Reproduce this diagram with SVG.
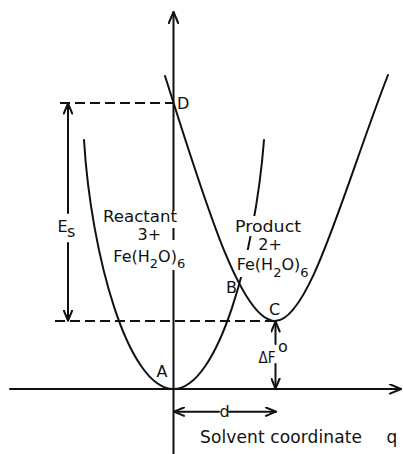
<svg xmlns="http://www.w3.org/2000/svg" width="403" height="454" viewBox="0 0 403 454">
<style>
.ln{stroke:#111;stroke-width:2;fill:none;stroke-linecap:round}
.ds{stroke:#111;stroke-width:2;fill:none;stroke-dasharray:10 5}
.t{font-family:"DejaVu Sans","Liberation Sans",sans-serif;font-size:16px;fill:#111}
.bg{fill:#fff;stroke:none}
</style>
<defs>
<marker id="ax" viewBox="0 0 13 11" refX="12" refY="5.5" markerWidth="13" markerHeight="11" markerUnits="userSpaceOnUse" orient="auto">
<path d="M1,0.8 L12,5.5 L1,10.2" fill="none" stroke="#111" stroke-width="2" stroke-linecap="round" stroke-linejoin="round"/>
</marker>
<marker id="ar" viewBox="0 0 12 10" refX="11" refY="5" markerWidth="12" markerHeight="10" markerUnits="userSpaceOnUse" orient="auto">
<path d="M1,0.8 L11,5 L1,9.2" fill="none" stroke="#111" stroke-width="2" stroke-linecap="round" stroke-linejoin="round"/>
</marker>
</defs>
<g id="connectors">
<line class="ln" x1="173.5" y1="454" x2="173.5" y2="12" marker-end="url(#ax)"/>
<line class="ln" x1="10" y1="389" x2="401" y2="389" marker-end="url(#ax)"/>
<line class="ds" x1="60" y1="103" x2="173.5" y2="103"/>
<line class="ds" x1="55" y1="321" x2="275" y2="321"/>
<line class="ln" x1="68" y1="213" x2="68" y2="103.5" marker-end="url(#ar)"/>
<line class="ln" x1="68" y1="243" x2="68" y2="320.5" marker-end="url(#ar)"/>
<line class="ln" x1="275.5" y1="344" x2="275.5" y2="321.5" marker-end="url(#ar)"/>
<line class="ln" x1="275.5" y1="364" x2="275.5" y2="388.5" marker-end="url(#ar)"/>
<line class="ln" x1="219" y1="411.7" x2="174" y2="411.7" marker-end="url(#ar)"/>
<line class="ln" x1="229" y1="411.7" x2="276" y2="411.7" marker-end="url(#ar)"/>
</g>
<g id="reactant-curve">
<path class="ln" d="M84,140 C91,255 128,389 173.5,389 C218,389 255,255 264,140"/>
</g>
<g id="product-curve">
<path class="ln" d="M165,76 C203,195 240,321 275,321 C310,321 345,185 388,75"/>
</g>
<g id="reactant-label">
<rect class="bg" x="101" y="211" width="79" height="17"/>
<rect class="bg" x="112" y="240" width="76" height="30"/>
<text class="t" x="103" y="222" textLength="74" lengthAdjust="spacingAndGlyphs">Reactant</text>
<text class="t" x="137.5" y="240">3+</text>
<text class="t" x="113.3" y="261.7">Fe(H<tspan dy="6.5" font-size="13">2</tspan><tspan dy="-6.5">O)</tspan><tspan dy="6.5" font-size="13">6</tspan></text>
</g>
<g id="product-label">
<rect class="bg" x="234" y="216" width="68" height="20"/>
<rect class="bg" x="238" y="250" width="22" height="27"/>
<text class="t" x="235" y="231.7" textLength="66" lengthAdjust="spacingAndGlyphs">Product</text>
<text class="t" x="258.3" y="250">2+</text>
<text class="t" x="236.7" y="270">Fe(H<tspan dy="6.5" font-size="13">2</tspan><tspan dy="-6.5">O)</tspan><tspan dy="6.5" font-size="13">6</tspan></text>
</g>
<g id="point-A"><text class="t" x="156.5" y="377">A</text></g>
<g id="point-B"><text class="t" x="226" y="293">B</text></g>
<g id="point-C"><text class="t" x="269" y="315">C</text></g>
<g id="point-D"><text class="t" x="177" y="108.5">D</text></g>
<g id="label-Es"><text class="t" x="57.5" y="231.7">E</text><text class="t" x="67" y="236.7">s</text></g>
<g id="label-dF"><text class="t" x="258.5" y="362.7" textLength="17" lengthAdjust="spacingAndGlyphs">ΔF</text><text class="t" x="278" y="351.5" font-size="12">o</text></g>
<g id="label-d"><text class="t" x="219.5" y="416.7">d</text></g>
<g id="axis-label"><text class="t" x="200" y="442.7" style="font-size:17px" textLength="162" lengthAdjust="spacing">Solvent coordinate</text><text class="t" x="386.5" y="442.7" style="font-size:17px">q</text></g>
</svg>
